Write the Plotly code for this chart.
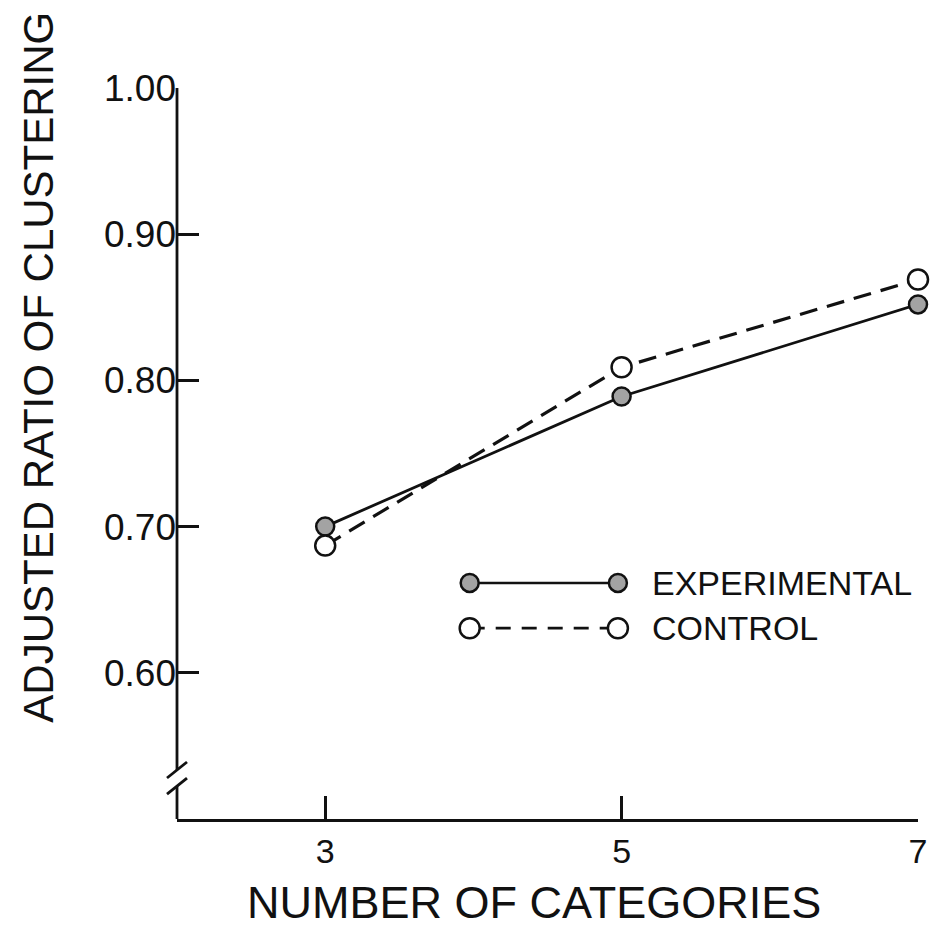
import plotly.graph_objects as go

# ---- data ----
categories = [3, 5, 7]
experimental = [0.700, 0.789, 0.852]
control = [0.687, 0.809, 0.869]
y_ticks = [0.60, 0.70, 0.80, 0.90, 1.00]
y_tick_labels = ["0.60", "0.70", "0.80", "0.90", "1.00"]
x_ticks = [3, 5, 7]
x_tick_labels = ["3", "5", "7"]
series_names = ["EXPERIMENTAL", "CONTROL"]

FONT = "Liberation Sans"
INK = "#111111"
GREY = "#a3a3a3"

fig = go.Figure()

fig.add_trace(go.Scatter(
    x=categories, y=experimental, mode="lines+markers",
    line=dict(color=INK, width=2.8),
    marker=dict(size=18, color=GREY, line=dict(color=INK, width=2.5)),
    cliponaxis=False, showlegend=False, name=series_names[0]))
fig.add_trace(go.Scatter(
    x=categories, y=control, mode="lines+markers",
    line=dict(color=INK, width=3.2, dash="18px,10px"),
    marker=dict(size=20, color="white", line=dict(color=INK, width=2.5)),
    cliponaxis=False, showlegend=False, name=series_names[1]))

# legend keys on an overlay axis in plot-fraction units
leg_x = [0.395, 0.595]
leg_y = [0.323, 0.261]
fig.add_trace(go.Scatter(
    x=leg_x, y=[leg_y[0]] * 2, xaxis="x2", yaxis="y2", mode="lines+markers",
    line=dict(color=INK, width=2.5),
    marker=dict(size=18, color=GREY, line=dict(color=INK, width=2.5)),
    cliponaxis=False, showlegend=False, hoverinfo="skip"))
fig.add_trace(go.Scatter(
    x=leg_x, y=[leg_y[1]] * 2, xaxis="x2", yaxis="y2", mode="lines+markers",
    line=dict(color=INK, width=2.8, dash="15px,11px"),
    marker=dict(size=20, color="white", line=dict(color=INK, width=2.5)),
    cliponaxis=False, showlegend=False, hoverinfo="skip"))

annotations = []
for name, yy in zip(series_names, leg_y):
    annotations.append(dict(
        x=0.638, y=yy, xref="x2", yref="y2", text=name, showarrow=False,
        xanchor="left", yanchor="middle",
        font=dict(family=FONT, size=34, color=INK)))

annotations.append(dict(
    x=-0.187, y=0.618, xref="paper", yref="paper",
    text="ADJUSTED RATIO OF CLUSTERING", textangle=-90, showarrow=False,
    xanchor="center", yanchor="middle",
    font=dict(family=FONT, size=42, color=INK)))
annotations.append(dict(
    x=0.482, y=-0.1149, xref="paper", yref="paper",
    text="NUMBER OF CATEGORIES", showarrow=False,
    xanchor="center", yanchor="middle",
    font=dict(family=FONT, size=45, color=INK)))

# broken y axis line with break marks
shapes = [
    dict(type="line", xref="x domain", yref="y", x0=0, x1=0, y0=0.5335, y1=1.0,
         line=dict(color=INK, width=2.8)),
    dict(type="line", xref="x domain", yref="y", x0=0, x1=0, y0=0.5, y1=0.5225,
         line=dict(color=INK, width=2.8)),
]
for yb in (0.5335, 0.5225):
    shapes.append(dict(
        type="line", xref="x domain", yref="y", xsizemode="pixel", xanchor=0,
        ysizemode="pixel", yanchor=yb, x0=-10, x1=10, y0=-8, y1=8,
        line=dict(color=INK, width=2.8)))

fig.update_layout(
    width=938, height=928,
    margin=dict(l=177, r=11, t=88, b=109),
    paper_bgcolor="white", plot_bgcolor="white",
    font=dict(family=FONT, color=INK),
    xaxis=dict(range=[2.0, 7.0], tickvals=x_ticks, ticktext=x_tick_labels,
               ticks="inside", ticklen=23, tickwidth=2.6, tickcolor=INK,
               showline=True, linewidth=2.8, linecolor=INK,
               showgrid=False, zeroline=False,
               tickfont=dict(family=FONT, size=34, color=INK)),
    yaxis=dict(range=[0.5, 1.0], tickvals=y_ticks, ticktext=y_tick_labels,
               ticks="inside", ticklen=22, tickwidth=2.6, tickcolor=INK,
               showline=False, showgrid=False, zeroline=False,
               tickfont=dict(family=FONT, size=37, color=INK)),
    xaxis2=dict(overlaying="x", range=[0, 1], visible=False),
    yaxis2=dict(overlaying="y", range=[0, 1], visible=False),
    annotations=annotations, shapes=shapes,
)

fig.write_html("out.html")
